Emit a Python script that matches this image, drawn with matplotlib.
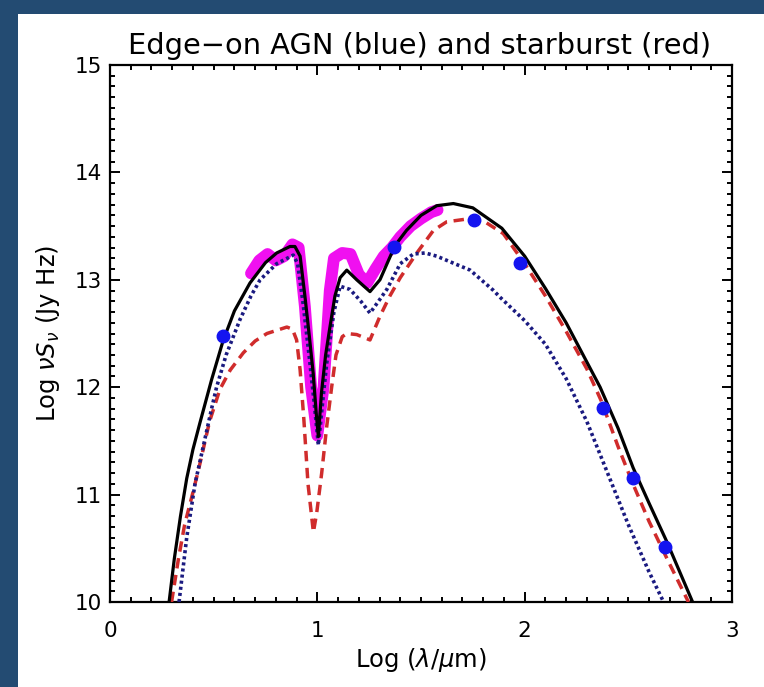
import matplotlib
matplotlib.use("Agg")
import matplotlib.pyplot as plt
from matplotlib.patches import Rectangle

# Toplam model (siyah)
toplam_x = [0.285, 0.31, 0.34, 0.37, 0.40, 0.434, 0.49, 0.545, 0.60, 0.675, 0.75, 0.804,
            0.868, 0.892, 0.917, 0.94, 0.96, 0.98, 0.995, 1.005, 1.02, 1.04, 1.06, 1.085,
            1.11, 1.142, 1.19, 1.254, 1.302, 1.375, 1.43, 1.50, 1.576, 1.656, 1.75, 1.89,
            2.00, 2.10, 2.20, 2.364, 2.45, 2.523, 2.60, 2.686, 2.81]
toplam_y = [10.0, 10.4, 10.8, 11.15, 11.42, 11.67, 12.07, 12.43, 12.71, 12.97, 13.16, 13.25,
            13.31, 13.31, 13.22, 12.85, 12.5, 12.13, 11.75, 11.54, 11.95, 12.3, 12.55, 12.85,
            13.02, 13.09, 13.0, 12.89, 13.0, 13.32, 13.46, 13.6, 13.69, 13.71, 13.67, 13.48,
            13.22, 12.92, 12.6, 12.0, 11.62, 11.25, 10.92, 10.56, 10.0]

# Starburst (kirmizi)
sb_x = [0.297, 0.33, 0.36, 0.40, 0.434, 0.48, 0.53, 0.58, 0.643, 0.70, 0.757, 0.853, 0.88,
        0.90, 0.917, 0.935, 0.955, 0.981, 0.997, 1.021, 1.045, 1.069, 1.09, 1.12, 1.142,
        1.19, 1.254, 1.302, 1.35, 1.40, 1.48, 1.56, 1.624, 1.737, 1.80, 1.897, 2.00, 2.10,
        2.20, 2.30, 2.37, 2.45, 2.52, 2.60, 2.69, 2.79]
sb_y = [10.0, 10.4, 10.72, 11.02, 11.29, 11.68, 11.98, 12.16, 12.32, 12.43, 12.5, 12.56, 12.54,
        12.44, 12.16, 11.7, 11.1, 10.65, 10.83, 11.2, 11.63, 12.0, 12.3, 12.47, 12.5,
        12.49, 12.44, 12.66, 12.85, 13.02, 13.25, 13.46, 13.54, 13.57, 13.55, 13.43, 13.15, 12.85,
        12.52, 12.17, 11.87, 11.45, 11.11, 10.75, 10.39, 10.0]

# AGN (mavi)
agn_x = [0.333, 0.37, 0.41, 0.45, 0.49, 0.514, 0.56, 0.627, 0.68, 0.724, 0.804, 0.884, 0.905,
         0.93, 0.96, 0.985, 1.005, 1.025, 1.045, 1.08, 1.11, 1.158, 1.21, 1.254, 1.295, 1.335,
         1.40, 1.463, 1.52, 1.576, 1.65, 1.737, 1.85, 1.88, 2.00, 2.10, 2.20, 2.30, 2.40, 2.50,
         2.60, 2.67]
agn_y = [10.0, 10.6, 11.1, 11.45, 11.8, 12.0, 12.3, 12.63, 12.85, 13.0, 13.15, 13.23, 13.15,
         12.8, 12.3, 11.85, 11.46, 11.85, 12.22, 12.7, 12.94, 12.91, 12.8, 12.69, 12.8, 12.91,
         13.15, 13.24, 13.25, 13.22, 13.16, 13.09, 12.9, 12.84, 12.62, 12.4, 12.08, 11.68, 11.2, 10.72,
         10.28, 10.0]

# IRS spektrumu (magenta)
irs_x = [0.68, 0.72, 0.76, 0.80, 0.84, 0.88, 0.91, 0.94, 0.97, 1.0, 1.03, 1.06, 1.08, 1.12,
         1.16, 1.20, 1.24, 1.28, 1.32, 1.36, 1.40, 1.45, 1.50, 1.55, 1.58]
irs_y = [13.06, 13.18, 13.24, 13.18, 13.22, 13.33, 13.3, 12.75, 12.0, 11.55, 12.0, 12.9, 13.2,
         13.25, 13.24, 13.05, 12.97, 13.1, 13.22, 13.3, 13.40, 13.5, 13.57, 13.63, 13.65]

# Fotometri noktalari
nokta_x = [0.545, 1.37, 1.756, 1.978, 2.378, 2.523, 2.677]
nokta_y = [12.48, 13.31, 13.56, 13.16, 11.81, 11.15, 10.51]

fig = plt.figure(figsize=(7.64, 6.87), dpi=100)
fig.patch.set_facecolor('#234b72')
fig.patches.append(Rectangle((18 / 764, 0), 1, 1 - 14 / 687, transform=fig.transFigure,
                             facecolor='white', edgecolor='none', zorder=-10))

ax = fig.add_axes([110 / 764, 85 / 687, 622 / 764, 537 / 687])
ax.set_facecolor('white')

ax.plot(irs_x, irs_y, color='#f010f0', lw=8.5, solid_capstyle='round',
        solid_joinstyle='round', zorder=2)
ax.plot(sb_x, sb_y, color='#d02c2c', lw=2.5, dashes=(3.0, 1.9), zorder=3)
ax.plot(agn_x, agn_y, color='#1a1a80', lw=2.6, dashes=(0.85, 0.85), zorder=3)
ax.plot(toplam_x, toplam_y, color='black', lw=2.3, zorder=4)
ax.plot(nokta_x, nokta_y, 'o', color='#1414f0', markersize=9, zorder=5)

ax.set_xlim(0, 3)
ax.set_ylim(10, 15)
ax.set_xticks([0, 1, 2, 3])
ax.set_yticks([10, 11, 12, 13, 14, 15])
ax.set_xticks([i / 10 for i in range(31)], minor=True)
ax.set_yticks([10 + i / 10 for i in range(51)], minor=True)
ax.tick_params(which='both', direction='in', top=True, right=True, labelsize=15.5,
               width=1.4, colors='black')
ax.tick_params(which='major', length=7.5)
ax.tick_params(which='minor', length=3.8)
ax.tick_params(axis='x', which='major', pad=14)
ax.tick_params(axis='y', which='major', pad=6)
for s in ax.spines.values():
    s.set_linewidth(1.6)

ax.set_xlabel(r'Log ($\lambda/\mu$m)', fontsize=17.5, labelpad=3)
ax.set_ylabel(r'Log $\nu S_\nu$ (Jy Hz)', fontsize=17.5, labelpad=9)
fig.text(0.549, 1 - 46 / 687, 'Edge\u2212on AGN (blue) and starburst (red)',
         ha='center', va='center', fontsize=20.8)

plt.savefig('out.png', dpi=100)
